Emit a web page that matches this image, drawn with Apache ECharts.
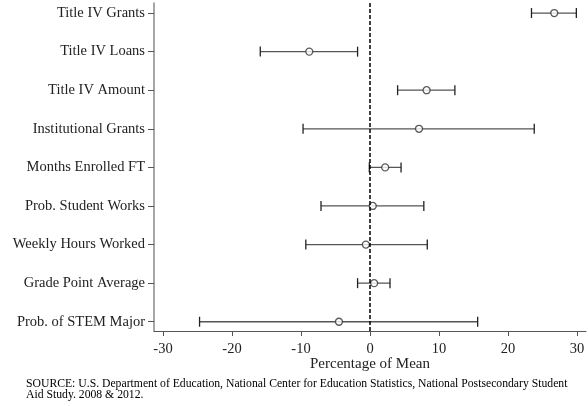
<!DOCTYPE html>
<html>
<head>
<meta charset="utf-8">
<script src="https://cdn.jsdelivr.net/npm/echarts@6/dist/echarts.min.js"></script>
<style>html,body{margin:0;padding:0;background:#fff}#c{width:588px;height:406px}</style>
</head>
<body>
<div id="c"></div>
<script>
var categories = ["Title IV Grants","Title IV Loans","Title IV Amount","Institutional Grants","Months Enrolled FT","Prob. Student Works","Weekly Hours Worked","Grade Point Average","Prob. of STEM Major"];
var estimates = [26.7, -8.8, 8.2, 7.1, 2.2, 0.4, -0.6, 0.6, -4.5];
var lowerCI   = [23.4, -15.9, 4.0, -9.7, -0.1, -7.1, -9.3, -1.8, -24.7];
var upperCI   = [29.9, -1.8, 12.3, 23.8, 4.5, 7.8, 8.3, 2.9, 15.6];
var xTicks = [-30, -20, -10, 0, 10, 20, 30];
var xTitle = "Percentage of Mean";
var sourceLines = ["SOURCE: U.S. Department of Education, National Center for Education Statistics, National Postsecondary Student","Aid Study. 2008 & 2012."];

var font = "Liberation Serif";
var ciData = categories.map(function(c, i){ return [lowerCI[i], upperCI[i], i + 1]; });
var ptData = categories.map(function(c, i){ return [estimates[i], i + 1]; });
var yPos = categories.map(function(c, i){ return i + 1; });

var chart = echarts.init(document.getElementById('c'), null, {renderer: 'canvas'});
chart.setOption({
  animation: false,
  backgroundColor: '#fff',
  grid: {left: 154, right: 2, top: 3, bottom: 75, containLabel: false},
  xAxis: {
    type: 'value', min: -31.3, max: 31.3,
    splitLine: {show: false},
    axisLine: {show: true, onZero: false, lineStyle: {color: '#555', width: 1}},
    axisTick: {show: true, length: 5, customValues: xTicks, lineStyle: {color: '#555'}},
    axisLabel: {customValues: xTicks, fontFamily: font, fontSize: 14.5, color: '#222', margin: 11},
    name: xTitle, nameLocation: 'middle', nameGap: 26, nameMoveOverlap: false,
    nameTextStyle: {fontFamily: font, fontSize: 15, color: '#222'}
  },
  yAxis: {
    type: 'value', min: 0.74, max: 9.24, inverse: true,
    splitLine: {show: false},
    axisLine: {show: true, onZero: false, lineStyle: {color: '#888', width: 1.5}},
    axisTick: {show: true, length: 6, customValues: yPos, lineStyle: {color: '#555'}},
    axisLabel: {customValues: yPos, fontFamily: font, fontSize: 14.5, color: '#222', margin: 9,
      formatter: function(v){ return categories[Math.round(v) - 1] || ''; }}
  },
  series: [
    {
      type: 'custom',
      data: ciData,
      encode: {x: [0, 1], y: 2},
      renderItem: function(params, api){
        var p1 = api.coord([api.value(0), api.value(2)]);
        var p2 = api.coord([api.value(1), api.value(2)]);
        var h = 5;
        var st = {stroke: '#555', lineWidth: 1.3};
        var cap = {stroke: '#222', lineWidth: 1.3};
        return {type: 'group', children: [
          {type: 'line', shape: {x1: p1[0], y1: p1[1], x2: p2[0], y2: p2[1]}, style: st},
          {type: 'line', shape: {x1: p1[0], y1: p1[1] - h, x2: p1[0], y2: p1[1] + h}, style: cap},
          {type: 'line', shape: {x1: p2[0], y1: p2[1] - h, x2: p2[0], y2: p2[1] + h}, style: cap}
        ]};
      },
      z: 2
    },
    {
      type: 'scatter',
      data: ptData,
      symbol: 'circle', symbolSize: 7,
      itemStyle: {color: '#fff', borderColor: '#333', borderWidth: 1.3},
      z: 4,
      markLine: {
        silent: true, symbol: 'none', label: {show: false},
        lineStyle: {color: '#000', type: [4, 2], width: 1.5},
        data: [{xAxis: 0}]
      }
    }
  ],
  graphic: sourceLines.map(function(t, i){
    return {type: 'text', left: 26, top: 378 + i * 11,
      style: {text: t, font: '11.7px "Liberation Serif"', fill: '#000'}};
  })
});
</script>
</body>
</html>
